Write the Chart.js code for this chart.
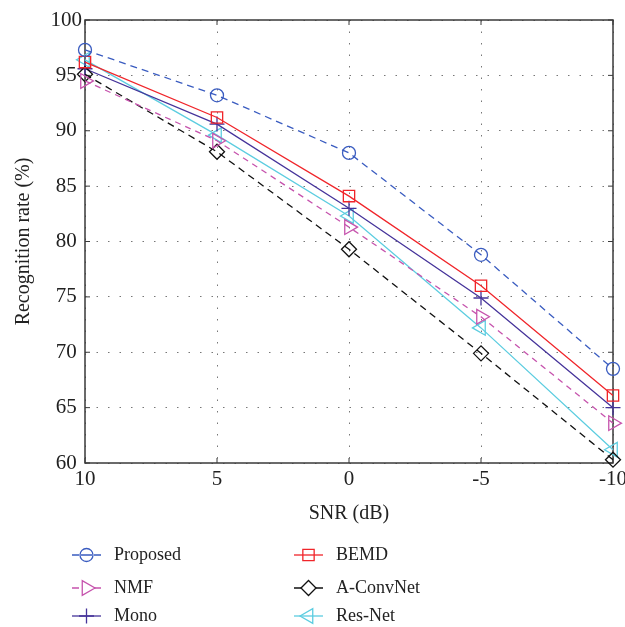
<!DOCTYPE html>
<html>
<head>
<meta charset="utf-8">
<script src="https://cdn.jsdelivr.net/npm/chart.js@4"></script>
<style>
  html, body { margin: 0; padding: 0; background: #fff; }
  #wrap { width: 625px; height: 627px; }
</style>
</head>
<body>
<div id="wrap"><canvas id="grafico" width="625" height="627"></canvas></div>
<script>
// datos
const snr = [10, 5, 0, -5, -10];
const proposed = [97.3, 93.2, 88.0, 78.8, 68.5];
const bemd     = [96.2, 91.2, 84.1, 76.0, 66.1];
const nmf      = [94.5, 89.1, 81.3, 73.2, 63.6];
const aconvnet = [95.1, 88.1, 79.3, 69.9, 60.3];
const mono     = [95.6, 90.6, 83.0, 74.9, 65.0];
const resnet   = [96.4, 89.6, 82.3, 72.2, 61.2];
const nombres  = ["Proposed", "BEMD", "NMF", "A-ConvNet", "Mono", "Res-Net"];
const yTicks   = [60, 65, 70, 75, 80, 85, 90, 95, 100];

const fuente = "'Liberation Serif', 'DejaVu Serif', serif";

function serie(nombre, valores, color, estilo, rot, dash, radio) {
  return {
    label: nombre,
    data: snr.map((s, i) => ({ x: s, y: valores[i] })),
    borderColor: color,
    borderWidth: 1.3,
    borderDash: dash,
    pointStyle: estilo,
    pointRotation: rot,
    pointRadius: radio,
    pointBorderColor: color,
    pointBackgroundColor: "rgba(0,0,0,0)",
    pointBorderWidth: 1.3,
    fill: false,
    clip: false,
    tension: 0
  };
}

const datasets = [
  serie(nombres[0], proposed, "#3a5cc0", "circle", 0, [7, 5], 6.5),
  serie(nombres[1], bemd, "#f0252a", "rect", 0, [], 8),
  serie(nombres[2], nmf, "#c653ad", "triangle", 90, [6, 5], 8.5),
  serie(nombres[3], aconvnet, "#111111", "rectRot", 0, [7, 5], 7.5),
  serie(nombres[4], mono, "#45339a", "cross", 0, [], 7.5),
  serie(nombres[5], resnet, "#5ccde0", "triangle", -90, [], 8.5)
];

// marco completo, marcas interiores y leyenda en dos columnas
const marcoLeyenda = {
  id: "marcoLeyenda",
  beforeDatasetsDraw(chart) {
    const ctx = chart.ctx;
    const a = chart.chartArea;
    ctx.save();
    ctx.strokeStyle = "#3a3a3a";
    ctx.lineWidth = 1.5;
    ctx.setLineDash([]);
    ctx.strokeRect(a.left, a.top, a.right - a.left, a.bottom - a.top);

    // marcas hacia dentro
    ctx.lineWidth = 1;
    ctx.beginPath();
    snr.forEach(v => {
      const px = chart.scales.x.getPixelForValue(v);
      ctx.moveTo(px, a.bottom); ctx.lineTo(px, a.bottom - 5);
      ctx.moveTo(px, a.top); ctx.lineTo(px, a.top + 5);
    });
    yTicks.forEach(v => {
      const py = chart.scales.y.getPixelForValue(v);
      ctx.moveTo(a.left, py); ctx.lineTo(a.left + 5, py);
      ctx.moveTo(a.right, py); ctx.lineTo(a.right - 5, py);
    });
    ctx.stroke();
    ctx.restore();
  },
  afterDraw(chart) {
    const ctx = chart.ctx;
    ctx.save();
    const filas = [555, 588, 616];
    const cols = [72, 294];
    chart.data.datasets.forEach((ds, i) => {
      const x0 = cols[i % 2];
      const y0 = filas[Math.floor(i / 2)];
      ctx.strokeStyle = ds.borderColor;
      ctx.lineWidth = 1.3;
      ctx.beginPath();
      if (ds.borderDash.length) {
        ctx.moveTo(x0, y0); ctx.lineTo(x0 + 7, y0);
        ctx.moveTo(x0 + 22, y0); ctx.lineTo(x0 + 29, y0);
      } else {
        ctx.moveTo(x0, y0); ctx.lineTo(x0 + 29, y0);
      }
      if (ds.pointStyle === "circle") {
        ctx.moveTo(x0 + 9, y0); ctx.lineTo(x0 + 20, y0);
      }
      ctx.stroke();
      ctx.fillStyle = "rgba(0,0,0,0)";
      Chart.helpers.drawPoint(ctx, {
        pointStyle: ds.pointStyle,
        radius: ds.pointRadius,
        rotation: ds.pointRotation,
        borderWidth: 1.3
      }, x0 + 14.5, y0);
      ctx.fillStyle = "#222";
      ctx.font = "18px " + fuente;
      ctx.textAlign = "left";
      ctx.textBaseline = "middle";
      ctx.fillText(ds.label, x0 + 42, y0);
    });
    ctx.restore();
  }
};

let draw = new Chart(document.getElementById("grafico"), {
  type: "line",
  data: { datasets: datasets },
  plugins: [marcoLeyenda],
  options: {
    responsive: false,
    animation: false,
    layout: { padding: { top: 20, right: 0, bottom: 97, left: 0 } },
    plugins: { legend: { display: false }, tooltip: { enabled: false } },
    scales: {
      x: {
        type: "linear",
        reverse: true,
        min: -10, max: 10,
        afterBuildTicks: s => { s.ticks = snr.map(v => ({ value: v })); },
        ticks: { color: "#222", font: { family: fuente, size: 21 }, padding: 4,
                 callback: v => String(v) },
        grid: { color: "#777", lineWidth: 1, drawTicks: false },
        border: { display: false, dash: [1.5, 10] },
        title: { display: true, text: "SNR (dB)", color: "#222",
                 font: { family: fuente, size: 20 }, padding: { top: 4 } },
        afterFit: s => { s.height = 67; s.paddingLeft = 0; s.paddingRight = 12; }
      },
      y: {
        min: 60, max: 100,
        afterBuildTicks: s => { s.ticks = yTicks.map(v => ({ value: v })); },
        ticks: { color: "#222", font: { family: fuente, size: 21 }, padding: 3,
                 crossAlign: "center" },
        grid: { color: "#777", lineWidth: 1, drawTicks: false },
        border: { display: false, dash: [1.5, 10] },
        title: { display: true, text: "Recognition rate (%)", color: "#222",
                 font: { family: fuente, size: 20 }, padding: { top: 12, bottom: 0 } },
        afterFit: s => { s.width = 85; }
      }
    }
  }
});
</script>
</body>
</html>
